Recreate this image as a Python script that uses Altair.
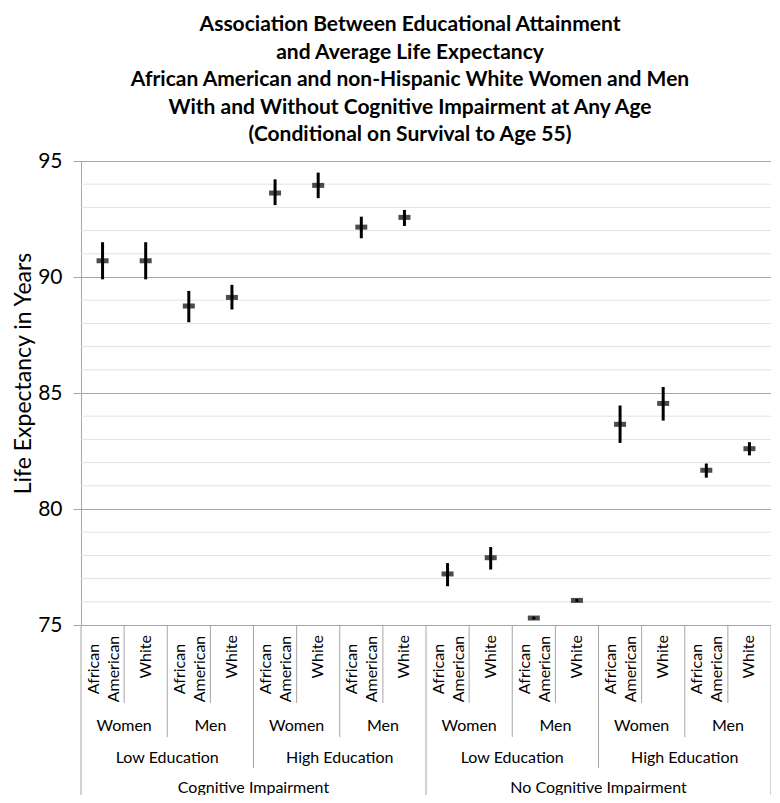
import altair as alt
import pandas as pd

# ---- data ----
impairment = ["Cognitive Impairment"] * 8 + ["No Cognitive Impairment"] * 8
education = (["Low Education"] * 4 + ["High Education"] * 4) * 2
gender = (["Women"] * 2 + ["Men"] * 2) * 4
race = ["African American", "White"] * 8
estimate = [90.7, 90.7, 88.75, 89.12, 93.62, 93.95, 92.15, 92.57,
            77.2, 77.9, 75.3, 76.06, 83.65, 84.55, 81.67, 82.6]
lower = [89.9, 89.9, 88.05, 88.6, 93.1, 93.4, 91.67, 92.2,
         76.67, 77.39, 75.24, 76.0, 82.85, 83.81, 81.35, 82.31]
upper = [91.5, 91.5, 89.4, 89.66, 94.21, 94.5, 92.6, 92.89,
         77.67, 78.36, 75.36, 76.12, 84.46, 85.26, 81.96, 82.88]

major_ticks = [75, 80, 85, 90, 95]
minor_ticks = [76, 77, 78, 79, 81, 82, 83, 84, 86, 87, 88, 89, 91, 92, 93, 94]

title_lines = [
    "Association Between Educational Attainment",
    "and Average Life Expectancy",
    "African American and non-Hispanic White Women and Men",
    "With and Without Cognitive Impairment at Any Age",
    "(Conditional on Survival to Age 55)",
]

n = len(race)
FONT = "Lato"
GRID_DARK = "#a6a6a6"
GRID_LIGHT = "#e2e2e2"
W, H = 690, 464

df = pd.DataFrame({
    "pos": [i + 0.5 for i in range(n)],
    "race": race, "gender": gender, "education": education,
    "impairment": impairment,
    "estimate": estimate, "lower": lower, "upper": upper,
})

# group label tables from runs of the category lists
def runs(keys):
    out = []
    start = 0
    for i in range(1, n + 1):
        if i == n or keys[i] != keys[start]:
            out.append({"label": keys[start][-1], "mid": (start + i) / 2})
            start = i
    return out

g_df = pd.DataFrame(runs([(impairment[i], education[i], gender[i]) for i in range(n)]))
e_df = pd.DataFrame(runs([(impairment[i], education[i]) for i in range(n)]))
c_df = pd.DataFrame(runs([(impairment[i],) for i in range(n)]))

# separators: depth = level where labels change across the boundary
bounds = []
for b in range(n + 1):
    if b == 0 or b == n or impairment[b] != impairment[b - 1]:
        lvl = 4
    elif education[b] != education[b - 1]:
        lvl = 3
    elif gender[b] != gender[b - 1]:
        lvl = 2
    else:
        lvl = 1
    bounds.append({"b": b, "lvl": lvl})
b_df = pd.DataFrame(bounds)

xscale = alt.Scale(domain=[0, n], nice=False, zero=False)
yscale = alt.Scale(domain=[75, 95], nice=False, zero=False)
x_enc = alt.X("pos:Q", scale=xscale, axis=None)

yaxis = alt.Axis(
    values=major_ticks, labelOverlap=False,
    grid=True, gridColor=GRID_DARK, gridWidth=1,
    tickSize=8, tickColor=GRID_DARK, domainColor=GRID_DARK,
    labelFont=FONT, labelFontSize=21, labelColor="black", labelPadding=11,
    title="Life Expectancy in Years", titleFont=FONT, titleFontSize=23,
    titleFontWeight="normal", titleColor="black",
    titleAngle=270, titleX=-58, titleY=212, titleAlign="center", titleBaseline="middle",
)

minor = alt.Chart(pd.DataFrame({"v": minor_ticks})).mark_rule(
    color=GRID_LIGHT, strokeWidth=1).encode(
    y=alt.Y("v:Q", scale=yscale, axis=yaxis))

base = alt.Chart(df)
err = base.mark_rule(color="black", strokeWidth=3).encode(
    x=x_enc, y=alt.Y("lower:Q", scale=yscale), y2="upper:Q",
)
pts = base.mark_tick(orient="horizontal", size=12, thickness=5, color="black").encode(
    x=x_enc, y=alt.Y("estimate:Q", scale=yscale),
)

depth = {1: 542, 2: 576, 3: 607, 4: 640}
seps = []
for lvl, d in depth.items():
    seps.append(
        alt.Chart(b_df[b_df["lvl"] == lvl]).mark_rule(color=GRID_DARK, strokeWidth=1).encode(
            x=alt.X("b:Q", scale=xscale, axis=None),
            y=alt.value(H), y2=alt.value(d),
        )
    )

# two-line race labels: centered block; one-line labels: end aligned at the top
race_two = base.transform_filter("indexof(datum.race, ' ') >= 0").mark_text(
    angle=270, lineBreak=" ", lineHeight=20, font=FONT, fontSize=16, dy=-9,
    align="center", baseline="middle", color="black").encode(
    x=x_enc, y=alt.value(508), text="race:N")
race_one = base.transform_filter("indexof(datum.race, ' ') < 0").mark_text(
    angle=270, font=FONT, fontSize=16,
    align="right", baseline="middle", color="black").encode(
    x=x_enc, y=alt.value(474), text="race:N")

def grp_text(d, y):
    return alt.Chart(d).mark_text(font=FONT, fontSize=16, align="center",
                                  baseline="middle", color="black").encode(
        x=alt.X("mid:Q", scale=xscale, axis=None), y=alt.value(y), text="label:N")

chart = alt.layer(
    minor, err, pts, *seps, race_two, race_one,
    grp_text(g_df, 565), grp_text(e_df, 597), grp_text(c_df, 627),
).properties(
    width=W, height=H,
    autosize="none",
    padding={"left": 73, "top": 153, "right": 0, "bottom": 170},
    title=alt.Title(text=title_lines, font=FONT, fontSize=21, fontWeight="bold",
                    lineHeight=27.5, anchor="middle", dx=-16, offset=5, color="black"),
).configure_view(strokeWidth=0).configure(background="white")

chart.save("out.html", embed_options={"renderer": "svg", "actions": False})
